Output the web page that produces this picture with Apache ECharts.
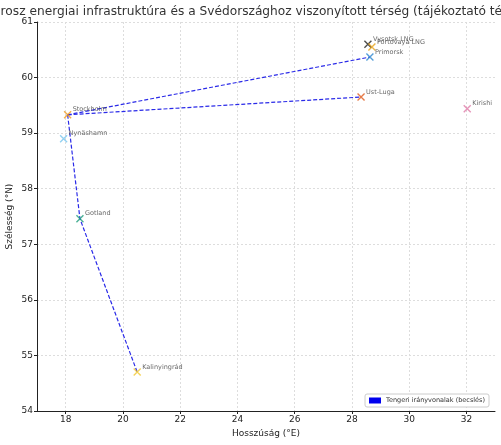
<!DOCTYPE html>
<html><head><meta charset="utf-8">
<script src="https://cdn.jsdelivr.net/npm/echarts@6/dist/echarts.min.js"></script>
<style>html,body{margin:0;padding:0;background:#fff}#c{width:501px;height:445px}</style>
</head><body><div id="c"></div>
<script>
const names = ['Vysotsk LNG','Portovaya LNG','Primorsk','Ust-Luga','Kirishi','Stockholm','Nynäshamn','Gotland','Kalinyingrád'];
const lons = [28.56, 28.7, 28.63, 28.32, 32.03, 18.07, 17.93, 18.5, 20.5];
const lats = [60.6, 60.55, 60.37, 59.65, 59.44, 59.33, 58.9, 57.46, 54.7];
const colors = ['#222222','#e8a317','#2a86cf','#e05a1c','#e07aa8','#ef9a1e','#78c6ee','#1e9e7a','#f2c830'];
const routes = [['Stockholm','Primorsk'],['Stockholm','Ust-Luga'],['Stockholm','Gotland','Kalinyingrád']];
const xTicks = [18,20,22,24,26,28,30,32];
const yTicks = [54,55,56,57,58,59,60,61];
const legendName = 'Tengeri irányvonalak (becslés)';

const idx = n => names.indexOf(n);
const series = [];
routes.forEach((r,i)=>{
  series.push({type:'line', name:legendName, data:r.map(n=>[lons[idx(n)],lats[idx(n)]]),
    symbol:'none', lineStyle:{color:'#2a2ae8', width:1.2, type:[4,2]}, itemStyle:{color:'#0000ee'}, z:2});
});
series.push({type:'scatter', name:'pts', symbol:'path://M0,0L10,10M10,0L0,10', symbolSize:7, z:3,
  data:names.map((n,i)=>({value:[lons[i],lats[i]], name:n,
    itemStyle:{color:'none', borderColor:colors[i], borderWidth:1.4},
    label:{show:true, formatter:n, position:'right', offset:[-6,-5], fontSize:6.5, color:'#444', fontFamily:'DejaVu Sans'}}))
});
const chart = echarts.init(document.getElementById('c'));
chart.setOption({
  animation:false,
  title:{text:'Orosz energiai infrastruktúra és a Svédországhoz viszonyított térség (tájékoztató térkép)', left:-9, top:6,
    padding:0,
    textStyle:{fontSize:12.2, fontWeight:'normal', color:'#333', fontFamily:'DejaVu Sans'}},
  grid:{left:37, right:6, top:22, bottom:34, outerBoundsMode:'none', containLabel:false},
  legend:{data:[{name:legendName, icon:'rect'}], right:12, bottom:38, itemWidth:12, itemHeight:6,
    textStyle:{fontSize:6.5, color:'#333', fontFamily:'DejaVu Sans'}, borderColor:'#ccc', borderWidth:1, padding:[3,4], backgroundColor:'#fff', borderRadius:2},
  xAxis:{type:'value', min:17, max:33, interval:1, name:'Hosszúság (°E)', nameLocation:'middle', nameGap:18,
    nameTextStyle:{fontSize:9, color:'#222', fontFamily:'DejaVu Sans'},
    axisLine:{onZero:false, lineStyle:{color:'#222'}}, axisTick:{customValues:xTicks, length:3, lineStyle:{color:'#222'}},
    axisLabel:{customValues:xTicks, fontSize:9, color:'#222', margin:4, fontFamily:'DejaVu Sans'},
    splitLine:{show:true, customValues:xTicks, lineStyle:{color:'#ddd', type:[2,2]}}},
  yAxis:{type:'value', min:54, max:61, interval:1, name:'Szélesség (°N)', nameLocation:'middle', nameGap:23, nameMoveOverlap:false,
    nameTextStyle:{fontSize:9, color:'#222', fontFamily:'DejaVu Sans'},
    axisLine:{show:true, onZero:false, lineStyle:{color:'#222'}}, axisTick:{show:true, length:3, lineStyle:{color:'#222'}},
    axisLabel:{fontSize:9, color:'#222', margin:4, fontFamily:'DejaVu Sans'},
    splitLine:{show:true, lineStyle:{color:'#ddd', type:[2,2]}}},
  series:series
});
</script></body></html>
